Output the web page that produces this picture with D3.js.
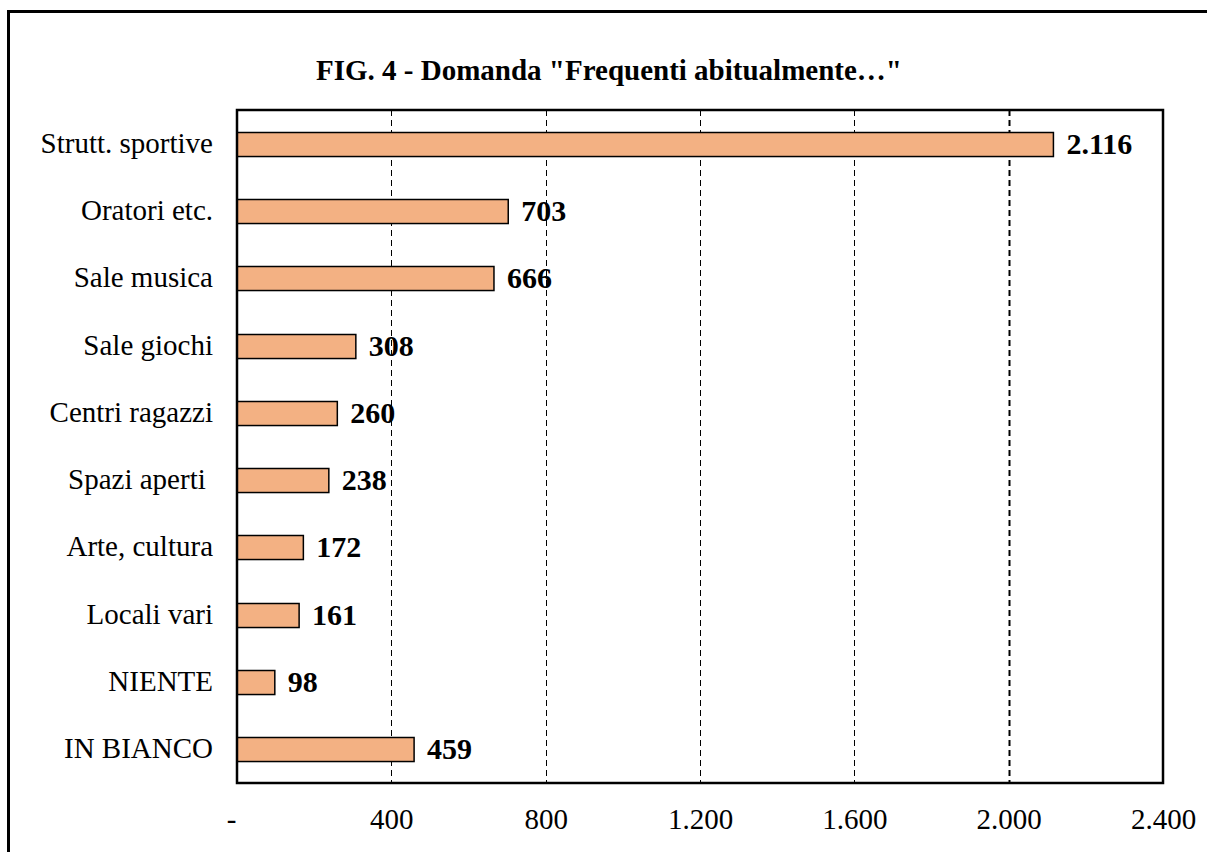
<!DOCTYPE html>
<html><head><meta charset="utf-8">
<script src="https://cdn.jsdelivr.net/npm/d3@7/dist/d3.min.js"></script>
<style>body{margin:0;background:#fff}svg{display:block}</style>
</head><body>
<script>
const categories = ["Strutt. sportive","Oratori etc.","Sale musica","Sale giochi","Centri ragazzi","Spazi aperti ","Arte, cultura","Locali vari","NIENTE","IN BIANCO"];
const values = [2116,703,666,308,260,238,172,161,98,459];
const tickValues = [0,400,800,1200,1600,2000,2400];
const tickLabels = ["-","400","800","1.200","1.600","2.000","2.400"];
const title = "FIG. 4 - Domanda \"Frequenti abitualmente…\"";

const W = 1207, H = 852;
const svg = d3.select("body").append("svg").attr("width", W).attr("height", H);
const font = "Liberation Serif";

// outer frame
svg.append("rect").attr("x", 8.5).attr("y", 11.5).attr("width", 1210).attr("height", 900)
  .attr("fill", "none").attr("stroke", "#000").attr("stroke-width", 3);

svg.append("text").attr("x", 609).attr("y", 80).attr("text-anchor", "middle")
  .attr("font-family", font).attr("font-weight", "bold").attr("font-size", 29).text(title);

const L = 237, R = 1163, T = 110, B = 783;
const x = d3.scaleLinear().domain([0, 2400]).range([L, R]);
const y = d3.scaleBand().domain(categories).range([T, B]).paddingInner(0.643).paddingOuter(0.32);

// gridlines
svg.append("g").selectAll("line").data(tickValues.filter(v => v > 0 && v < 2400)).join("line")
  .attr("x1", d => Math.round(x(d)) + 0.5).attr("x2", d => Math.round(x(d)) + 0.5)
  .attr("y1", T).attr("y2", B)
  .attr("stroke", "#000").attr("stroke-width", d => d === 2000 ? 2 : 1)
  .attr("stroke-dasharray", "6,4");

// bars
svg.append("g").selectAll("rect").data(values).join("rect")
  .attr("x", L).attr("y", (d, i) => Math.round(y(categories[i])) + 0.5)
  .attr("width", d => x(d) - L).attr("height", y.bandwidth())
  .attr("fill", "#F3B183").attr("stroke", "#000").attr("stroke-width", 1.5);

// value labels
svg.append("g").selectAll("text").data(values).join("text")
  .attr("x", d => x(d) + 13).attr("y", (d, i) => y(categories[i]) + y.bandwidth() / 2 + 10)
  .attr("font-family", font).attr("font-weight", "bold").attr("font-size", 30)
  .text(d => d3.format(",")(d).replace(/,/g, "."));

// plot frame
svg.append("rect").attr("x", L).attr("y", T).attr("width", R - L).attr("height", B - T)
  .attr("fill", "none").attr("stroke", "#000").attr("stroke-width", 2.5);

// category axis labels
svg.append("g").selectAll("text").data(categories).join("text")
  .attr("x", 213).attr("y", d => y(d) + y.bandwidth() / 2 + 9)
  .attr("text-anchor", "end").style("white-space", "pre")
  .attr("font-family", font).attr("font-size", 29).text(d => d);

// x axis tick labels
const ax = d3.axisBottom(x).tickValues(tickValues).tickSize(0).tickPadding(0)
  .tickFormat((d, i) => tickLabels[i]);
const g = svg.append("g").attr("transform", `translate(0,${B + 46})`).call(ax);
g.select(".domain").remove();
g.attr("font-family", font).attr("font-size", 29);
g.selectAll("text").attr("font-family", font).attr("font-size", 29).attr("fill", "#000")
  .attr("dy", 0).attr("y", 0);
g.selectAll(".tick").filter(d => d === 0).select("text").attr("dx", -6);
</script>
</body></html>
